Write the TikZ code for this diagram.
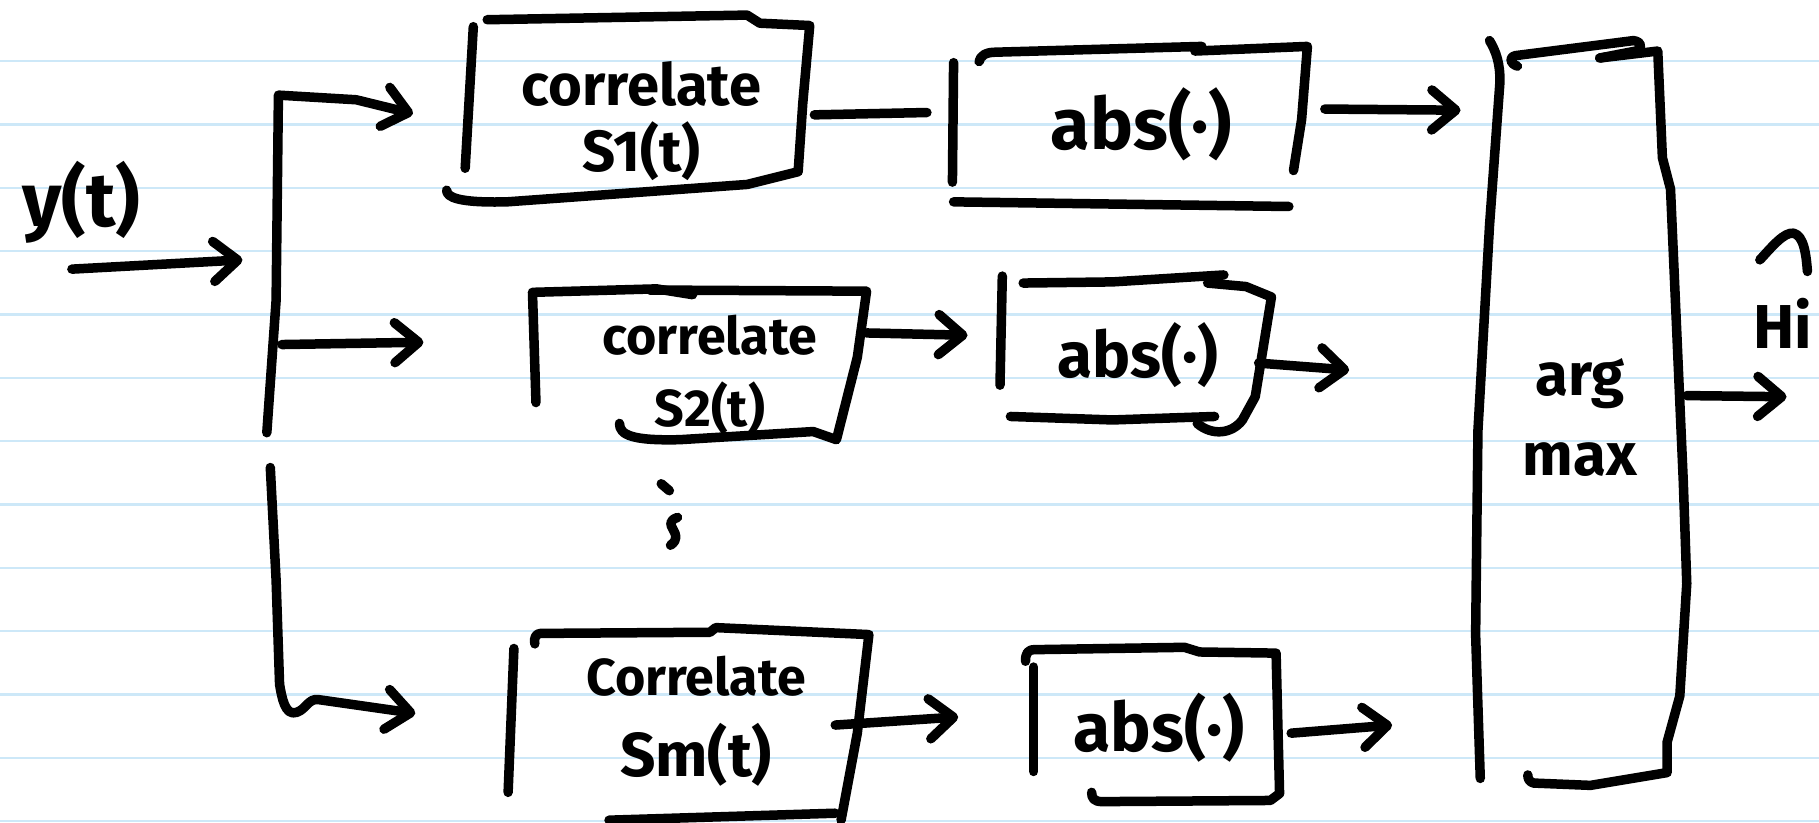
\documentclass[tikz,border=0pt]{standalone}
\usepackage{fontspec}
\setmainfont{Fira Sans}
\usetikzlibrary{arrows.meta}
\definecolor{ruleblue}{RGB}{205,232,248}
\begin{document}
\begin{tikzpicture}[x=1.16pt,y=-1.16pt,
  hand/.style={line width=9.5pt,line cap=round,line join=round},
  conn/.style={hand,-{Straight Barb[length=24pt,width=40pt,round]}},
  lbl/.style={inner sep=0pt,align=center,font=\bfseries\fontsize{#1pt}{#1pt}\selectfont},
  rule/.style={ruleblue,line width=2.4pt}]
\useasboundingbox (0,0) rectangle (1568,709);
\clip (0,0) rectangle (1568,709);
\fill[white] (0,0) rectangle (1568,709);
\foreach \k in {0,...,12} \draw[rule] (0,{52.6+54.6*\k}) -- (1568,{52.6+54.6*\k});

% ---- texts
\node[lbl=76] (yt) at (70,174) {y(t)};
\node[lbl=58] (b1) at (553,104) {correlate\\[8pt]S1(t)};
\node[lbl=52] (b2) at (612,323) {correlate\\[20pt]S2(t)};
\node[lbl=52] (bm) at (600,622) {Correlate\\[26pt]{\fontsize{62pt}{62pt}\selectfont Sm(t)}};
\node[lbl=72] (a1) at (984,107) {abs(·)};
\node[lbl=64] (a2) at (981,306) {abs(·)};
\node[lbl=68] (am) at (999,627) {abs(·)};
\node[lbl=60] (mx) at (1362,360) {arg\\[20pt]max};
\node[lbl=62,anchor=west] (hi) at (1511,279) {Hi};

% ---- connector end points
\coordinate (in0) at (62,232);
\coordinate (spin) at (209,224);
\coordinate (spbot) at (230,373);
\coordinate (sptop) at (240,82);
\coordinate (b1in) at (356,98);
\coordinate (spmid) at (243,297);
\coordinate (b2in) at (365,295);
\coordinate (splow) at (233,403);
\coordinate (bmin) at (358,615);
\coordinate (b1out) at (702,99);
\coordinate (a1in) at (799,97);
\coordinate (b2out) at (747,287);
\coordinate (a2in) at (834,289);
\coordinate (bmout) at (720,625);
\coordinate (amin) at (826,618);
\coordinate (a1out) at (1142,94);
\coordinate (mxin1) at (1259,95);
\coordinate (a2out) at (1085,313);
\coordinate (mxin2) at (1163,319);
\coordinate (amout) at (1113,632);
\coordinate (mxin3) at (1200,625);
\coordinate (mxout) at (1454,341);
\coordinate (hiin) at (1540,342);

% ---- connectors
\draw[conn] (in0) -- (spin);
\draw[conn] (spbot) -- (238,259) -- (sptop) -- (307,86) -- (b1in);
\draw[conn] (spmid) -- (b2in);
\draw[conn] (splow) -- (238,500) -- (241,590) to[out=-80,in=200] (256,614) to[out=20,in=175] (274,603) -- (bmin);
\draw[hand] (b1out) -- (a1in);
\draw[conn] (b2out) -- (a2in);
\draw[conn] (bmout) -- (amin);
\draw[conn] (a1out) -- (mxin1);
\draw[conn] (a2out) -- (mxin2);
\draw[conn] (amout) -- (mxin3);
\draw[conn] (mxout) -- (hiin);

% ---- box 1 (correlate S1)
\draw[hand] (408,23) -- (401,145);
\draw[hand] (420,17) -- (644,13) -- (655,20) -- (698,22) -- (692,89) -- (688,148)
  -- (644,159) -- (437,174) .. controls (395,175) and (385,170) .. (385,164);
% ---- abs 1
\draw[hand] (822,54) -- (821,157);
\draw[hand] (844,53) .. controls (845,48) and (850,45) .. (858,45) -- (1036,40);
\draw[hand] (1030,44) -- (1127,40) -- (1122,103) -- (1115,147);
\draw[hand] (822,174) -- (1111,178);
% ---- box 2 (correlate S2)
\draw[hand] (462,347) -- (459,252) -- (566,249) -- (597,254);
\draw[hand] (560,250) -- (747,251) -- (739,308) -- (721,379) -- (701,372) -- (586,379)
  .. controls (545,380) and (534,375) .. (534,365);
% ---- abs 2
\draw[hand] (864,238) -- (862,332);
\draw[hand] (882,244) -- (959,243) -- (1055,237);
\draw[hand] (1041,244) -- (1074,247) -- (1096,256) -- (1082,342) -- (1071,362)
  .. controls (1062,374) and (1045,376) .. (1032,365);
\draw[hand] (871,359) -- (959,362) -- (1047,359);
% ---- dots
\draw[hand] (570,417) -- (577,423);
\draw[hand] (584,446) .. controls (568,452) and (592,460) .. (578,470);
% ---- box m (correlate Sm)
\draw[hand] (443,559) -- (438,683);
\draw[hand] (461,555) .. controls (460,550) and (462,546) .. (466,546) -- (612,545)
  -- (617,541) -- (749,547) -- (739,632) -- (725,707);
\draw[hand] (525,707) -- (720,701);
% ---- abs m
\draw[hand] (891,575) -- (891,665);
\draw[hand] (884,570) .. controls (884,563) and (886,560) .. (892,560) -- (1021,558)
  -- (1034,562) -- (1100,563) -- (1103,684) -- (1095,690) -- (950,691)
  .. controls (943,691) and (941,688) .. (941,683);
% ---- arg max box
\draw[hand] (1284,35) .. controls (1290,45) and (1293,55) .. (1293,70) -- (1284,194)
  -- (1274,371) -- (1272,547) -- (1276,671);
\draw[hand] (1308,57) .. controls (1302,55) and (1300,50) .. (1306,48) -- (1408,35)
  .. controls (1416,36) and (1416,42) .. (1410,44) -- (1379,50);
\draw[hand] (1379,50) -- (1429,44) -- (1433,136) -- (1440,163) -- (1451,415)
  -- (1454,503) -- (1448,600) -- (1437,640) -- (1437,666) -- (1371,677)
  -- (1322,675) .. controls (1318,674) and (1317,671) .. (1317,668);
% ---- hat over Hi
\draw[hand] (1517,224) .. controls (1528,212) and (1538,200) .. (1546,201)
  .. controls (1555,203) and (1557,220) .. (1558,234);
\end{tikzpicture}
\end{document}
